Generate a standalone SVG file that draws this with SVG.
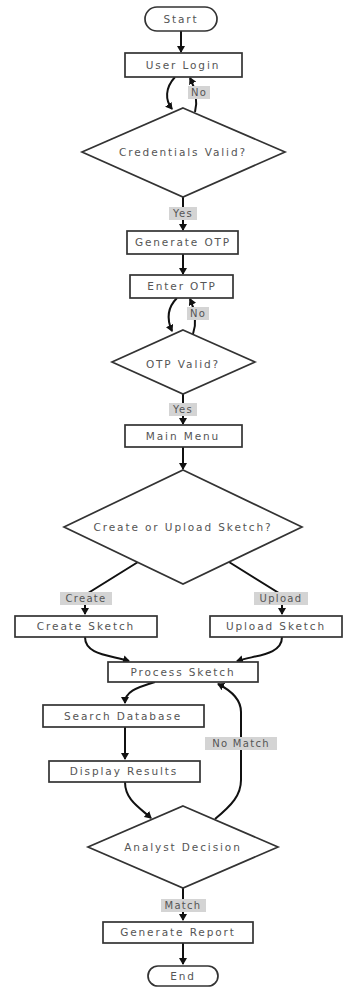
<svg xmlns="http://www.w3.org/2000/svg" width="343" height="987" viewBox="0 0 343 987">
<defs>
<marker id="ah" markerWidth="8" markerHeight="8" refX="6" refY="4" orient="auto" markerUnits="userSpaceOnUse">
<path d="M0,0 L7,4 L0,8 z" fill="#111"/>
</marker>
<style>
.n{fill:#fff;stroke:#333;stroke-width:1.7}
.t{font-family:"DejaVu Sans",sans-serif;font-size:10.5px;letter-spacing:1.9px;fill:#555;text-anchor:middle;dominant-baseline:central}
.e{fill:none;stroke:#111;stroke-width:2;marker-end:url(#ah)}
.lb{fill:#d4d4d4}
.lt{font-family:"DejaVu Sans",sans-serif;font-size:10px;letter-spacing:1.3px;fill:#555;text-anchor:middle;dominant-baseline:central}
</style>
</defs>
<rect width="343" height="987" fill="#fff"/>
<g id="connectors">
<path class="e" d="M181,31 L181,52"/>
<path class="e" d="M175,77 C165,88 165,100 172,109"/>
<path class="e" d="M195,112 C198,100 195,88 190,78"/>
<path class="e" d="M183,197 L183,230"/>
<path class="e" d="M183,254 L183,274"/>
<path class="e" d="M177,298 C167,308 167,320 172,331"/>
<path class="e" d="M193,334 C197,322 195,310 190,299"/>
<path class="e" d="M183,394 L183,424"/>
<path class="e" d="M183,447 L183,469"/>
<path class="e" d="M138,562 L85,595 L85,614"/>
<path class="e" d="M229,562 L282,595 L282,614"/>
<path class="e" d="M85,637 C85,655 110,655 129,661"/>
<path class="e" d="M282,637 C282,655 256,655 237,661"/>
<path class="e" d="M155,682 C135,688 125,692 125,703"/>
<path class="e" d="M125,727 L125,759"/>
<path class="e" d="M125,782 C125,800 140,808 151,818"/>
<path class="e" d="M215,819 C232,805 241,795 241,780 L241,712 C241,698 230,690 218,684"/>
<path class="e" d="M183,888 L183,920"/>
<path class="e" d="M183,943 L183,964"/>
<rect class="lb" x="188" y="86" width="22" height="13"/><text class="lt" x="199" y="92.5">No</text>
<rect class="lb" x="169" y="207" width="28" height="13"/><text class="lt" x="183" y="213.5">Yes</text>
<rect class="lb" x="187" y="307" width="22" height="13"/><text class="lt" x="198" y="313.5">No</text>
<rect class="lb" x="169" y="403" width="28" height="13"/><text class="lt" x="183" y="409.5">Yes</text>
<rect class="lb" x="60" y="592" width="52" height="13"/><text class="lt" x="86" y="598.5">Create</text>
<rect class="lb" x="254" y="592" width="54" height="13"/><text class="lt" x="281" y="598.5">Upload</text>
<rect class="lb" x="205" y="737" width="72" height="13"/><text class="lt" x="241" y="743.5">No Match</text>
<rect class="lb" x="161" y="899" width="45" height="13"/><text class="lt" x="183" y="905.5">Match</text>
</g>
<g id="start"><rect class="n" x="145" y="7" width="72" height="24" rx="12"/><text class="t" x="181" y="19">Start</text></g>
<g id="userLogin"><rect class="n" x="125" y="53" width="117" height="24"/><text class="t" x="183" y="65">User Login</text></g>
<g id="credValid"><polygon class="n" points="183,108 285,152 183,197 82,152"/><text class="t" x="183" y="152">Credentials Valid?</text></g>
<g id="genOTP"><rect class="n" x="127" y="231" width="111" height="23"/><text class="t" x="183" y="242">Generate OTP</text></g>
<g id="enterOTP"><rect class="n" x="130" y="275" width="103" height="23"/><text class="t" x="182" y="286">Enter OTP</text></g>
<g id="otpValid"><polygon class="n" points="183,330 255,362 183,394 112,362"/><text class="t" x="183" y="364">OTP Valid?</text></g>
<g id="mainMenu"><rect class="n" x="125" y="425" width="117" height="22"/><text class="t" x="183" y="436">Main Menu</text></g>
<g id="createUpload"><polygon class="n" points="183,470 302,527 183,584 64,527"/><text class="t" x="183" y="527">Create or Upload Sketch?</text></g>
<g id="createSketch"><rect class="n" x="15" y="616" width="142" height="21"/><text class="t" x="86" y="626">Create Sketch</text></g>
<g id="uploadSketch"><rect class="n" x="210" y="616" width="132" height="21"/><text class="t" x="276" y="626">Upload Sketch</text></g>
<g id="processSketch"><rect class="n" x="108" y="662" width="150" height="20"/><text class="t" x="183" y="672">Process Sketch</text></g>
<g id="searchDB"><rect class="n" x="43" y="705" width="161" height="22"/><text class="t" x="123" y="716">Search Database</text></g>
<g id="displayResults"><rect class="n" x="49" y="761" width="151" height="21"/><text class="t" x="124" y="771">Display Results</text></g>
<g id="analystDecision"><polygon class="n" points="183,806 278,847 183,888 88,847"/><text class="t" x="183" y="847">Analyst Decision</text></g>
<g id="genReport"><rect class="n" x="103" y="922" width="150" height="21"/><text class="t" x="178" y="932">Generate Report</text></g>
<g id="end"><rect class="n" x="148" y="966" width="70" height="20" rx="10"/><text class="t" x="183" y="976">End</text></g>
</svg>
